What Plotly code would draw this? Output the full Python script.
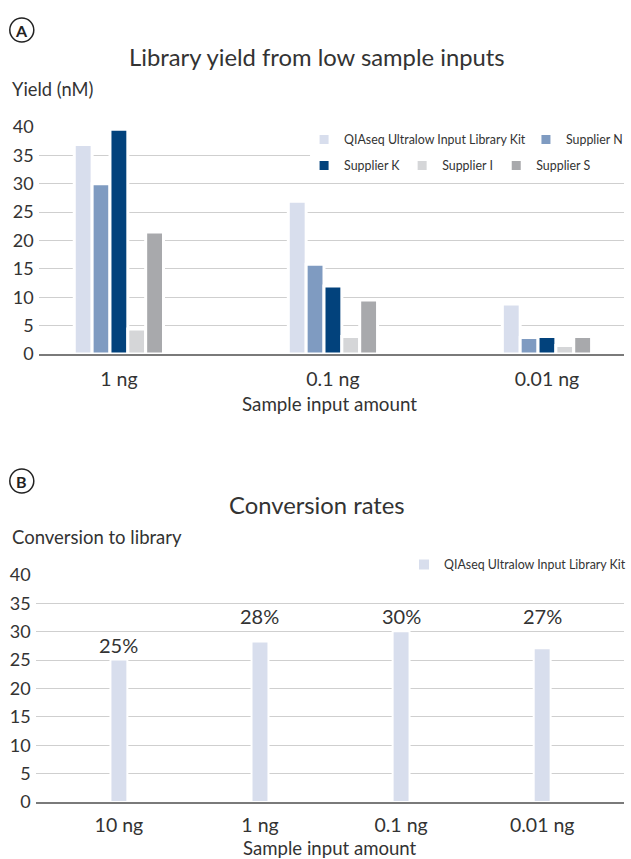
import plotly.graph_objects as go

# ---------------- data ----------------
yield_categories = ["1 ng", "0.1 ng", "0.01 ng"]
series_names = ["QIAseq Ultralow Input Library Kit", "Supplier N", "Supplier K",
                "Supplier I", "Supplier S"]
qiaseq_yield = [36.9, 26.9, 8.8]
supplier_n_yield = [30.0, 15.8, 2.9]
supplier_k_yield = [39.6, 12.0, 3.1]
supplier_i_yield = [4.4, 3.1, 1.5]
supplier_s_yield = [21.5, 9.5, 3.1]

conv_categories = ["10 ng", "1 ng", "0.1 ng", "0.01 ng"]
conv_values = [25.1, 28.3, 30.1, 27.1]
conv_labels = ["25%", "28%", "30%", "27%"]

y_tick_values = [0, 5, 10, 15, 20, 25, 30, 35, 40]

# ---------------- styles ----------------
W, H = 631, 859
FONT = "Lato"
TXT = "#333333"
colors = ["#d8deed", "#7f9bc1", "#02427c", "#d5d6d8", "#a8a9ac"]
# legend slot per series (text start x, row y) in pixels
legend_ids = ["legend", "legend2", "legend3", "legend4", "legend5"]
legend_pos = [(345, 140), (569, 140), (345, 166), (444, 166), (539, 166)]
TEXT_OFF = 38  # distance from legend box left to its text


def px(x):
    return x / W


def py(y):
    return 1 - y / H


fig = go.Figure()

series_values = [qiaseq_yield, supplier_n_yield, supplier_k_yield,
                 supplier_i_yield, supplier_s_yield]
for name, vals, col, lg in zip(series_names, series_values, colors, legend_ids):
    fig.add_trace(go.Bar(
        x=yield_categories, y=vals, name=name, xaxis="x", yaxis="y",
        marker=dict(color=col, line=dict(color="white", width=3)),
        legend=lg, hoverinfo="x+y+name",
    ))

fig.add_trace(go.Bar(
    x=conv_categories, y=conv_values, name=series_names[0], xaxis="x2", yaxis="y2",
    width=0.12, marker=dict(color=colors[0], line=dict(color="white", width=2)),
    legend="legend6",
))

ytick_font = dict(family=FONT, size=18, color=TXT)
xtick_font = dict(family=FONT, size=19.5, color=TXT)
leg_font = dict(family=FONT, size=12.4, color=TXT)

legend_layout = {}
for lg, (tx, ty) in zip(legend_ids, legend_pos):
    legend_layout[lg] = dict(orientation="h", x=px(tx - TEXT_OFF), y=py(ty),
                             xanchor="left", yanchor="middle",
                             bgcolor="rgba(0,0,0,0)", font=leg_font, itemclick=False)
legend_layout["legend6"] = dict(orientation="h", x=px(446 - TEXT_OFF), y=py(565),
                                xanchor="left", yanchor="middle",
                                bgcolor="rgba(0,0,0,0)", font=leg_font, itemclick=False)

fig.update_layout(
    width=W, height=H,
    margin=dict(l=0, r=0, t=0, b=0),
    paper_bgcolor="white", plot_bgcolor="white",
    barmode="group", bargap=0.583, bargroupgap=0,
    font=dict(family=FONT, color=TXT),
    xaxis=dict(domain=[px(39), px(630)], anchor="y", range=[-0.375, 2.36],
               showline=True, linecolor="#7a7a7a", linewidth=2, showgrid=False,
               ticks="", ticklabelstandoff=7, tickfont=xtick_font,
               automargin=False, fixedrange=True),
    yaxis=dict(domain=[py(354), py(127)], anchor="x", range=[0, 40],
               tickvals=y_tick_values, showgrid=True, gridcolor="#cfcfcf", gridwidth=1,
               zeroline=False, showline=False, ticks="", ticklabelstandoff=4,
               tickfont=ytick_font, automargin=False, fixedrange=True),
    xaxis2=dict(domain=[px(36), px(630)], anchor="y2", range=[-0.59, 3.58],
                showline=True, linecolor="#7a7a7a", linewidth=2, showgrid=False,
                ticks="", ticklabelstandoff=5, tickfont=xtick_font,
                automargin=False, fixedrange=True),
    yaxis2=dict(domain=[py(802), py(575)], anchor="x2", range=[0, 40],
                tickvals=y_tick_values, showgrid=True, gridcolor="#cfcfcf", gridwidth=1,
                zeroline=False, showline=False, ticks="", ticklabelstandoff=4,
                tickfont=ytick_font, automargin=False, fixedrange=True),
    showlegend=True,
    **legend_layout,
)

# white backdrop behind the legend of panel A (covers the gridlines there)
fig.add_shape(type="rect", xref="paper", yref="paper",
              x0=px(313), x1=1, y0=py(179), y1=py(118),
              fillcolor="white", line=dict(width=0), layer="above")

# circled panel letters
for letter, cy in [("A", 30), ("B", 481)]:
    fig.add_shape(type="circle", xref="paper", yref="paper",
                  xsizemode="pixel", ysizemode="pixel",
                  xanchor=px(22), yanchor=py(cy), x0=-12, x1=12, y0=-12, y1=12,
                  line=dict(color="#222222", width=1.5))
    fig.add_annotation(text="<b>%s</b>" % letter, xref="paper", yref="paper",
                       x=px(22), y=py(cy), xanchor="center", yanchor="middle",
                       showarrow=False, font=dict(family=FONT, size=16, color="#222222"))

# titles and axis titles
texts = [
    ("Library yield from low sample inputs", 320, 57, "center", 23.8),
    ("Yield (nM)", 10, 89, "left", 18.3),
    ("Sample input amount", 333, 403, "center", 18.8),
    ("Conversion rates", 320, 505, "center", 23.8),
    ("Conversion to library", 10, 537, "left", 18.5),
    ("Sample input amount", 333, 848, "center", 18.6),
]
for t, x, y, xa, size in texts:
    fig.add_annotation(text=t, xref="paper", yref="paper", x=px(x), y=py(y),
                       xanchor=xa, yanchor="middle", showarrow=False,
                       font=dict(family=FONT, size=size, color=TXT))

# percentage labels in panel B (first above its bar, the rest above the 30 level)
label_base = [conv_values[0], 30.1, 30.1, 30.1]
for cat, lab, base in zip(conv_categories, conv_labels, label_base):
    fig.add_annotation(text=lab, x=cat, y=base, xref="x2", yref="y2",
                       xanchor="center", yanchor="bottom", yshift=1, showarrow=False,
                       font=dict(family=FONT, size=20, color=TXT))

fig.write_html("out.html", config={"displayModeBar": False},
               post_script="document.body.style.margin='0';")
